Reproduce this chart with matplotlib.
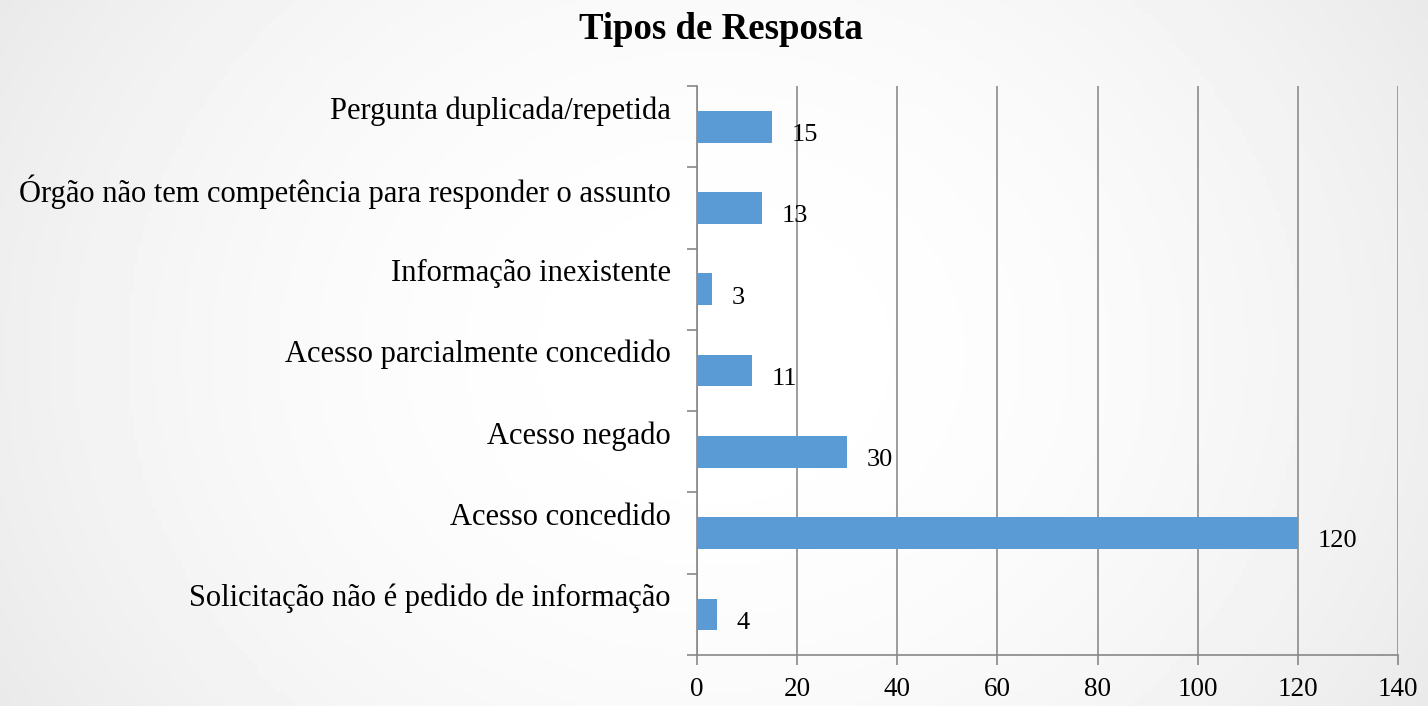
import matplotlib
matplotlib.use('Agg')
from matplotlib import pyplot as plt
from matplotlib.transforms import ScaledTranslation
import numpy as np

categories = ['Solicitação não é pedido de informação', 'Acesso concedido',
              'Acesso negado', 'Acesso parcialmente concedido',
              'Informação inexistente',
              'Órgão não tem competência para responder o assunto',
              'Pergunta duplicada/repetida']
values = [4, 120, 30, 11, 3, 13, 15]
xticks = [0, 20, 40, 60, 80, 100, 120, 140]

plt.rcParams['font.family'] = ['Liberation Serif', 'DejaVu Serif']

fig = plt.figure(figsize=(14.28, 7.06), dpi=100)

# light gray background, brighter in the middle
bg = fig.add_axes([0, 0, 1, 1])
gx, gy = np.meshgrid(np.linspace(-1, 1, 300), np.linspace(-1, 1, 150))
shade = 1 - 0.07 * (gx ** 2 * 0.9 + gy ** 2 * 0.3)
bg.imshow(shade, cmap='gray', vmin=0, vmax=1, aspect='auto', extent=[0, 1, 0, 1])
bg.set_axis_off()

ax = fig.add_axes([0.4881, 0.0722, 0.4909, 0.8058])
ax.patch.set_alpha(0)

y = np.arange(len(categories))
bars = ax.barh(y, values, height=0.39, color='#5b9bd5', zorder=3)
for v, yy in zip(values, y):
    ax.annotate(str(v), (v, yy), xytext=(14, -6), textcoords='offset points',
                ha='left', va='center', fontsize=19, zorder=4)

ax.set_xlim(0, 140)
ax.set_ylim(-0.5, len(categories) - 0.5)
ax.set_xticks(xticks)
ax.set_xticklabels([str(t) for t in xticks], fontsize=19.5)
ax.set_yticks(y)
ax.set_yticklabels(categories, fontsize=22)
ax.set_yticks(np.arange(-0.5, len(categories)), minor=True)
ax.tick_params(axis='y', which='major', length=0, pad=19)
ax.tick_params(axis='y', which='minor', length=7, color='#888888', width=1.2)
ax.tick_params(axis='x', length=7, color='#888888', width=1.2, pad=9)
for lab in ax.get_yticklabels():
    lab.set_transform(lab.get_transform() + ScaledTranslation(0, 14 / 72, fig.dpi_scale_trans))

ax.grid(axis='x', color='#8c8c8c', linewidth=1.2, zorder=0)
for s in ['top', 'right']:
    ax.spines[s].set_visible(False)
for s in ['left', 'bottom']:
    ax.spines[s].set_color('#888888')
    ax.spines[s].set_linewidth(1.2)

fig.text(0.505, 0.958, 'Tipos de Resposta', ha='center', va='center',
         fontsize=26.5, fontweight='bold')

fig.savefig('out.png', dpi=100)
